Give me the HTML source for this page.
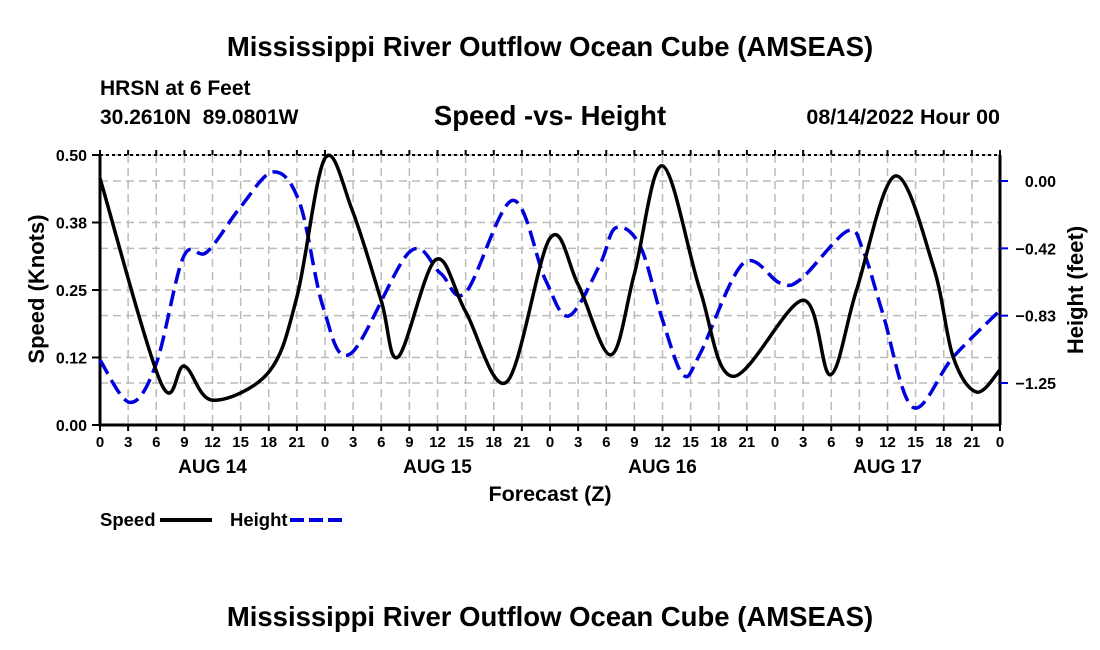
<!DOCTYPE html>
<html><head><meta charset="utf-8">
<style>
body{margin:0;background:#fff;}
svg{display:block;font-family:"Liberation Sans",Arial,sans-serif;font-weight:bold;}
</style></head>
<body>
<svg id="chart" width="1100" height="650" viewBox="0 0 1100 650">
<text x="550" y="56" text-anchor="middle" font-size="27.5">Mississippi River Outflow Ocean Cube (AMSEAS)</text>
<text x="100" y="95" font-size="21">HRSN at 6 Feet</text>
<text x="100" y="124" font-size="21" xml:space="preserve">30.2610N  89.0801W</text>
<text x="550" y="125" text-anchor="middle" font-size="27.5">Speed -vs- Height</text>
<text x="1000" y="124" text-anchor="end" font-size="21.5">08/14/2022 Hour 00</text>
<g id="grid"></g>
<g id="axes"></g>
<g id="series"></g>
<text x="550" y="501" text-anchor="middle" font-size="21.5">Forecast (Z)</text>
<text transform="translate(44,289) rotate(-90)" text-anchor="middle" font-size="22">Speed (Knots)</text>
<text transform="translate(1083,290) rotate(-90)" text-anchor="middle" font-size="22">Height (feet)</text>
<g>
<text x="100" y="526" font-size="18.5">Speed</text>
<line x1="160" y1="520" x2="212" y2="520" stroke="#000" stroke-width="4"/>
</g>
<g>
<text x="230" y="526" font-size="18.5">Height</text>
<line x1="290" y1="520" x2="342" y2="520" stroke="#0000dd" stroke-width="4" stroke-dasharray="14,5"/>
</g>
<text x="550" y="626" text-anchor="middle" font-size="27.5">Mississippi River Outflow Ocean Cube (AMSEAS)</text>
</svg>
<script>
const speedHours=[0,6.5,9,12,18,21,24,26.9,30,31.8,35.8,39,43.4,48,51,54.5,57,60,64,67.5,75,77.9,80.7,84.8,88.9,91,93.5,96];
const speedValues=[0.457,0.078,0.109,0.046,0.098,0.237,0.494,0.398,0.23,0.126,0.306,0.21,0.08,0.346,0.26,0.13,0.28,0.48,0.25,0.09,0.231,0.093,0.25,0.461,0.293,0.126,0.061,0.102];
const heightHours=[0,3.2,6,8.9,11.4,15,18.5,21.3,23.8,26.7,33,36.3,39,44,47.5,50,53.3,55,57.6,60,62.2,64,68.6,72.5,74.7,79.7,81.4,83.5,86.7,91,96];
const heightValues=[-1.108,-1.37,-1.13,-0.47,-0.44,-0.16,0.056,-0.136,-0.78,-1.07,-0.44,-0.57,-0.69,-0.12,-0.61,-0.835,-0.52,-0.29,-0.40,-0.86,-1.2,-1.07,-0.51,-0.63,-0.61,-0.31,-0.43,-0.82,-1.40,-1.09,-0.80];
const xTickHours=[0,3,6,9,12,15,18,21,24,27,30,33,36,39,42,45,48,51,54,57,60,63,66,69,72,75,78,81,84,87,90,93,96];
const dayLabels=["AUG 14","AUG 15","AUG 16","AUG 17"];
const leftTicks=[0,0.125,0.25,0.375,0.5];
const leftTickLabels=["0.00","0.12","0.25","0.38","0.50"];
const rightTicks=[0,-0.4167,-0.8333,-1.25];
const rightTickLabels=["0.00","-0.42","-0.83","-1.25"];

const L=100,R=1000,T=155,B=425;
const xS=h=>L+(R-L)*h/96;
const yS=v=>B-(B-T)*v/0.5;
const yH=v=>181+(383-181)*(v/-1.25);
const NS="http://www.w3.org/2000/svg";
function mk(tag,attrs,parent){const e=document.createElementNS(NS,tag);for(const k in attrs)e.setAttribute(k,attrs[k]);parent.appendChild(e);return e;}
const grid=document.getElementById('grid'),axes=document.getElementById('axes'),series=document.getElementById('series');
const gs={stroke:"#bbb","stroke-width":1.5,"stroke-dasharray":"8,5"};
xTickHours.forEach(h=>{const l=mk('line',Object.assign({x1:xS(h),x2:xS(h),y1:T,y2:B},gs),grid);

});
leftTicks.forEach(v=>{const l=mk('line',Object.assign({x1:L,x2:R,y1:yS(v),y2:yS(v)},gs),grid);

});
rightTicks.forEach(v=>{const l=mk('line',Object.assign({x1:L,x2:R,y1:yH(v),y2:yH(v)},gs),grid);

});
mk('line',{x1:L,x2:L,y1:T,y2:B,stroke:"#000","stroke-width":3},axes);
mk('line',{x1:R,x2:R,y1:T,y2:B,stroke:"#000","stroke-width":3},axes);
mk('line',{x1:L,x2:R,y1:B,y2:B,stroke:"#000","stroke-width":3},axes);
mk('line',{x1:L,x2:R,y1:T,y2:T,stroke:"#000","stroke-width":2,"stroke-dasharray":"3,3"},axes);
xTickHours.forEach(h=>{
 mk('line',{x1:xS(h),x2:xS(h),y1:B,y2:B+6,stroke:"#000","stroke-width":2},axes);
 mk('line',{x1:xS(h),x2:xS(h),y1:T-5,y2:T,stroke:"#000","stroke-width":2},axes);
 const t=mk('text',{x:xS(h),y:B+22,"text-anchor":"middle","font-size":15},axes);t.textContent=String(h%24);
 
 
});
dayLabels.forEach((d,i)=>{const t=mk('text',{x:xS(12+24*i),y:B+48,"text-anchor":"middle","font-size":19},axes);t.textContent=d;
 
 });
leftTicks.forEach((v,i)=>{mk('line',{x1:L-8,x2:L,y1:yS(v),y2:yS(v),stroke:"#000","stroke-width":2},axes);
 const t=mk('text',{x:L-13,y:yS(v)+6,"text-anchor":"end","font-size":16},axes);t.textContent=leftTickLabels[i];
 
 });
rightTicks.forEach((v,i)=>{mk('line',{x1:R,x2:R+8,y1:yH(v),y2:yH(v),stroke:"#0000dd","stroke-width":2},axes);
 const t=mk('text',{x:R+56,y:yH(v)+6,"text-anchor":"end","font-size":16},axes);t.textContent=rightTickLabels[i].replace('-','\u2212');
 
 });
function spline(pts){let d=`M${pts[0][0]},${pts[0][1]}`;
 for(let i=0;i<pts.length-1;i++){const p0=pts[Math.max(0,i-1)],p1=pts[i],p2=pts[i+1],p3=pts[Math.min(pts.length-1,i+2)];
  const c1=[p1[0]+(p2[0]-p0[0])/6,p1[1]+(p2[1]-p0[1])/6],c2=[p2[0]-(p3[0]-p1[0])/6,p2[1]-(p3[1]-p1[1])/6];
  d+=` C${c1[0]},${c1[1]} ${c2[0]},${c2[1]} ${p2[0]},${p2[1]}`;}return d;}
const hp=mk('path',{d:spline(heightHours.map((h,i)=>[xS(h),yH(heightValues[i])])),fill:"none",stroke:"#0000dd","stroke-width":3.5,"stroke-dasharray":"16,7"},series);


const sp=mk('path',{d:spline(speedHours.map((h,i)=>[xS(h),yS(speedValues[i])])),fill:"none",stroke:"#000","stroke-width":3.5},series);


</script>
</body></html>
